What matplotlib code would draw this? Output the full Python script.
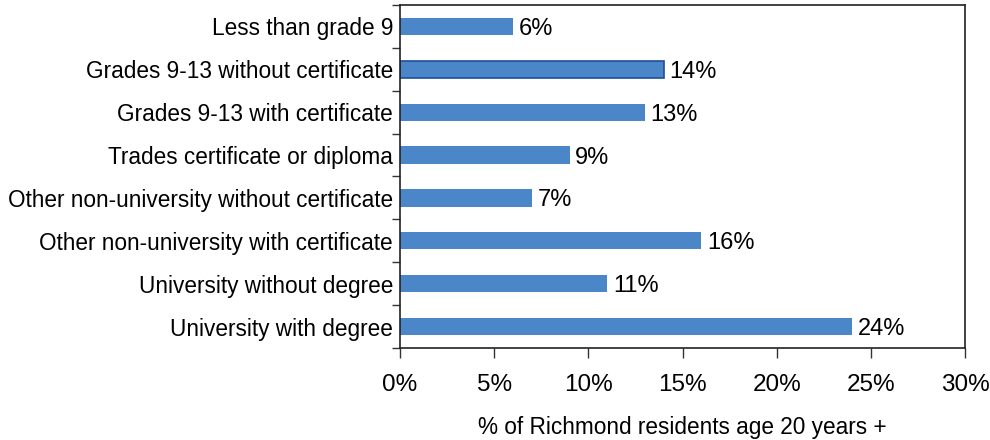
import numpy as np
import matplotlib.pyplot as plt
from matplotlib.ticker import FixedLocator

plt.rcParams['font.family'] = ['Liberation Sans', 'DejaVu Sans']

categories = ["Less than grade 9", "Grades 9-13 without certificate", "Grades 9-13 with certificate",
              "Trades certificate or diploma", "Other non-university without certificate",
              "Other non-university with certificate", "University without degree",
              "University with degree"]
values = [6, 14, 13, 9, 7, 16, 11, 24]
xticks = [0, 5, 10, 15, 20, 25, 30]

fig = plt.figure(figsize=(9.9, 4.4), dpi=100)
ax = fig.add_axes([400 / 990, 1 - 348 / 440, 565 / 990, 343 / 440])

y = np.arange(len(categories))
bars = ax.barh(y, values, height=0.4, color="#4a86c8", edgecolor="none")
# the second bar has a darker outline in the original
bars[1].set_edgecolor("#1f4e99")
bars[1].set_linewidth(1.2)

for yi, v in zip(y, values):
    ax.text(v + 0.3, yi, f"{v}%", va="center_baseline", ha="left", fontsize=17)

ax.set_ylim(len(categories) - 0.5, -0.5)
ax.set_xlim(0, 30)
ax.set_yticks(y)
ax.set_yticklabels(categories, fontsize=16.3, va="center_baseline")
ax.tick_params(axis="y", which="major", length=0, pad=5)
ax.yaxis.set_minor_locator(FixedLocator(np.arange(-0.5, len(categories), 1.0)))
ax.tick_params(axis="y", which="minor", length=6, width=1, color="#333333")

ax.set_xticks(xticks)
ax.set_xticklabels([f"{t}%" for t in xticks], fontsize=17.5)
ax.tick_params(axis="x", length=7, width=1, color="#333333", pad=12)
ax.set_xlabel("% of Richmond residents age 20 years +", fontsize=16.3, labelpad=14)

for s in ax.spines.values():
    s.set_color("#222222")
    s.set_linewidth(1.2)

fig.savefig("out.png", dpi=100)
